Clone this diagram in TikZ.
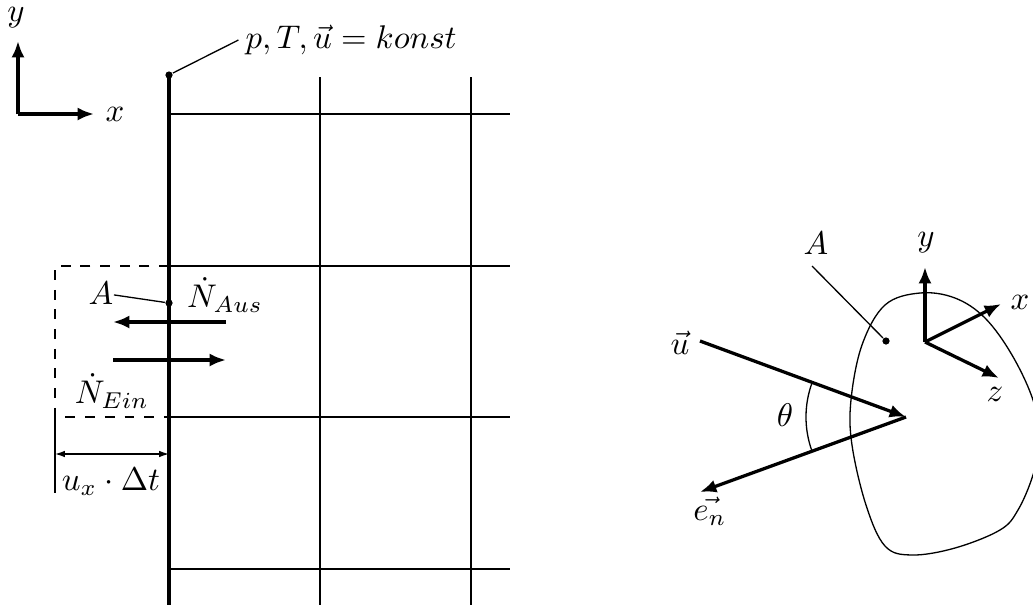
\documentclass[tikz,border=0pt]{standalone}
\usepackage{amsmath, amssymb}
\usepackage{tikz}
\usetikzlibrary{arrows.meta, positioning, calc}

\begin{document}
\begin{tikzpicture}[
    x=0.3049pt, y=-0.3049pt,
    grid/.style  = {semithick},
    wall/.style  = {line width=1.1pt},
    arr/.style   = {-{Latex[length=5pt,width=4pt]}, line width=1pt},
    dim/.style   = {{Latex[length=3pt,width=2pt]}-{Latex[length=3pt,width=2pt]}, thin},
    lbl/.style   = {inner sep=0pt},
    dot/.style   = {circle, fill, inner sep=0pt, minimum size=2.2pt}
]
  \useasboundingbox (0,0) rectangle (1033,608);

  % axes left
  \coordinate (o1) at (18,114);
  \node[lbl] (ly1) at (16,18)   {$y$};
  \node[lbl] (lx1) at (115,114) {$x$};
  \draw[arr] (o1) -- (18,41);
  \draw[arr] (o1) -- (94,114);

  % grid
  \draw[wall] (169,75) -- (169,605);
  \foreach \gx in {320,471}
    \draw[grid] (\gx,77) -- (\gx,605);
  \foreach \gy in {114,266,417,569}
    \draw[grid] (169,\gy) -- (510,\gy);

  \node[dot] (dotp) at (169,75) {};
  \node[lbl, anchor=west] (konst) at (245,40) {$p, T, \vec{u} = konst$};
  \draw (dotp) -- ([xshift=-2pt]konst.west);

  % control volume
  \coordinate (c1) at (55,266);
  \coordinate (c2) at (55,417);
  \draw[dashed, semithick] (169,266) -- (c1) -- (c2) -- (169,417);

  \node[dot] (dota) at (169,303) {};
  \node[lbl] (la) at (101,293) {$A$};
  \draw (la) -- (dota);

  \node[lbl] (naus) at (225,295) {$\dot{N}_{Aus}$};
  \node[lbl] (nein) at (112,391) {$\dot{N}_{Ein}$};
  \draw[arr] (226,322) -- (113,322);
  \draw[arr] (113,360) -- (226,360);

  \draw (c2) -- (55,493);
  \draw[dim] (55,454) -- (169,454);
  \node[lbl] (dt) at (111,482) {$u_x \cdot \Delta t$};

  % surface element
  \draw[thin] plot[smooth cycle, tension=0.6] coordinates {
    (885,305) (920,293) (955,298) (985,318) (1012,355) (1033,400)
    (1040,440) (1033,475) (1018,510) (1000,530) (955,548) (912,555)
    (885,546) (866,505) (852,445) (851,400) (862,345)};

  \coordinate (o2) at (925,342);
  \node[lbl] (ly2) at (926,243) {$y$};
  \node[lbl] (lx2) at (1020,302) {$x$};
  \node[lbl] (lz2) at (995,394) {$z$};
  \draw[arr] (o2) -- (925,267);
  \draw[arr] (o2) -- (1001,304);
  \draw[arr] (o2) -- (999,378);

  \node[dot] (dotb) at (886,341) {};
  \node[lbl] (lb) at (816,243) {$A$};
  \coordinate (lbfoot) at (812,266);
  \draw (lbfoot) -- (dotb);

  \coordinate (tip) at (906,417);
  \coordinate (ustart) at (700,341);
  \coordinate (enend) at (700,492);
  \node[lbl] (lu) at (680,343) {$\vec{u}$};
  \node[lbl] (len) at (710,511) {$\vec{e_n}$};
  \draw[arr] (ustart) -- (tip);
  \draw[arr] (tip) -- (enend);
  \draw ($(tip)+(160:100)$) arc[start angle=160, end angle=200.3, radius=100];
  \node[lbl] (lth) at (785,415) {$\theta$};
\end{tikzpicture}
\end{document}
